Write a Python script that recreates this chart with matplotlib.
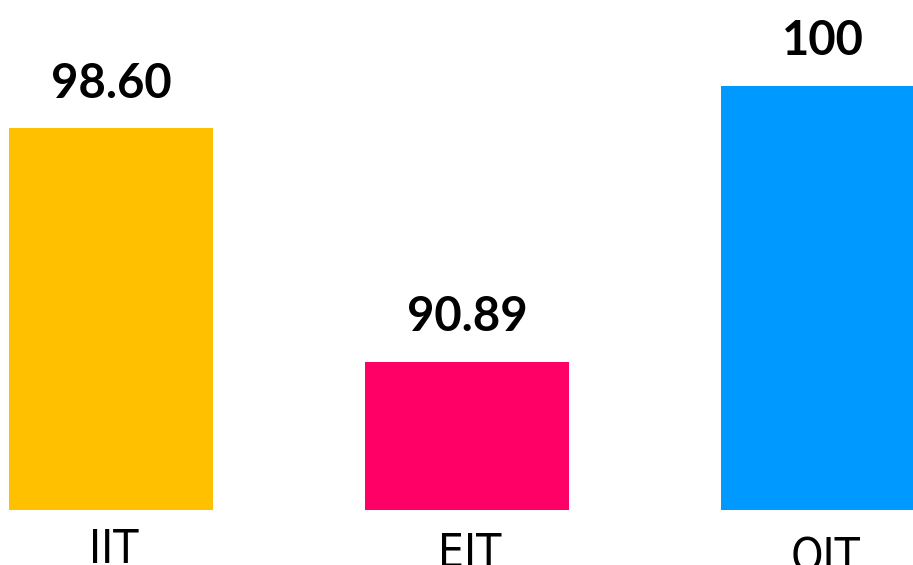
import matplotlib.pyplot as plt

categories = ['IIT', 'EIT', 'OIT']
values = [98.60, 90.89, 100]
value_labels = ['98.60', '90.89', '100']
colors = ['#FFC000', '#FF0066', '#0099FF']

fig = plt.figure(figsize=(9.13, 5.65), dpi=100)
ax = fig.add_axes([0, 55 / 565, 1, 510 / 565])

x = range(len(categories))
bars = ax.bar(x, [v - 86 for v in values], bottom=86, width=0.573, color=colors)

ax.set_xlim(-0.312, 2.253)
ax.set_ylim(86, 86 + 510 / 30.3)

for i, v in enumerate(values):
    ax.annotate(value_labels[i], (i, v), xytext=(0, 22), textcoords='offset points',
                ha='center', va='baseline', fontsize=34, fontweight='bold',
                family=['Lato', 'DejaVu Sans'])

# category labels sit slightly staggered in the original
label_drop = [0, 4, 8]
for i, c in enumerate(categories):
    ax.annotate(c, (i, 86), xytext=(2, -(53 + label_drop[i]) * 0.72), textcoords='offset points',
                ha='center', va='baseline', fontsize=33, fontstretch='condensed',
                family=['DejaVu Sans'], annotation_clip=False)

ax.axis('off')
fig.savefig('out.png', dpi=100)
